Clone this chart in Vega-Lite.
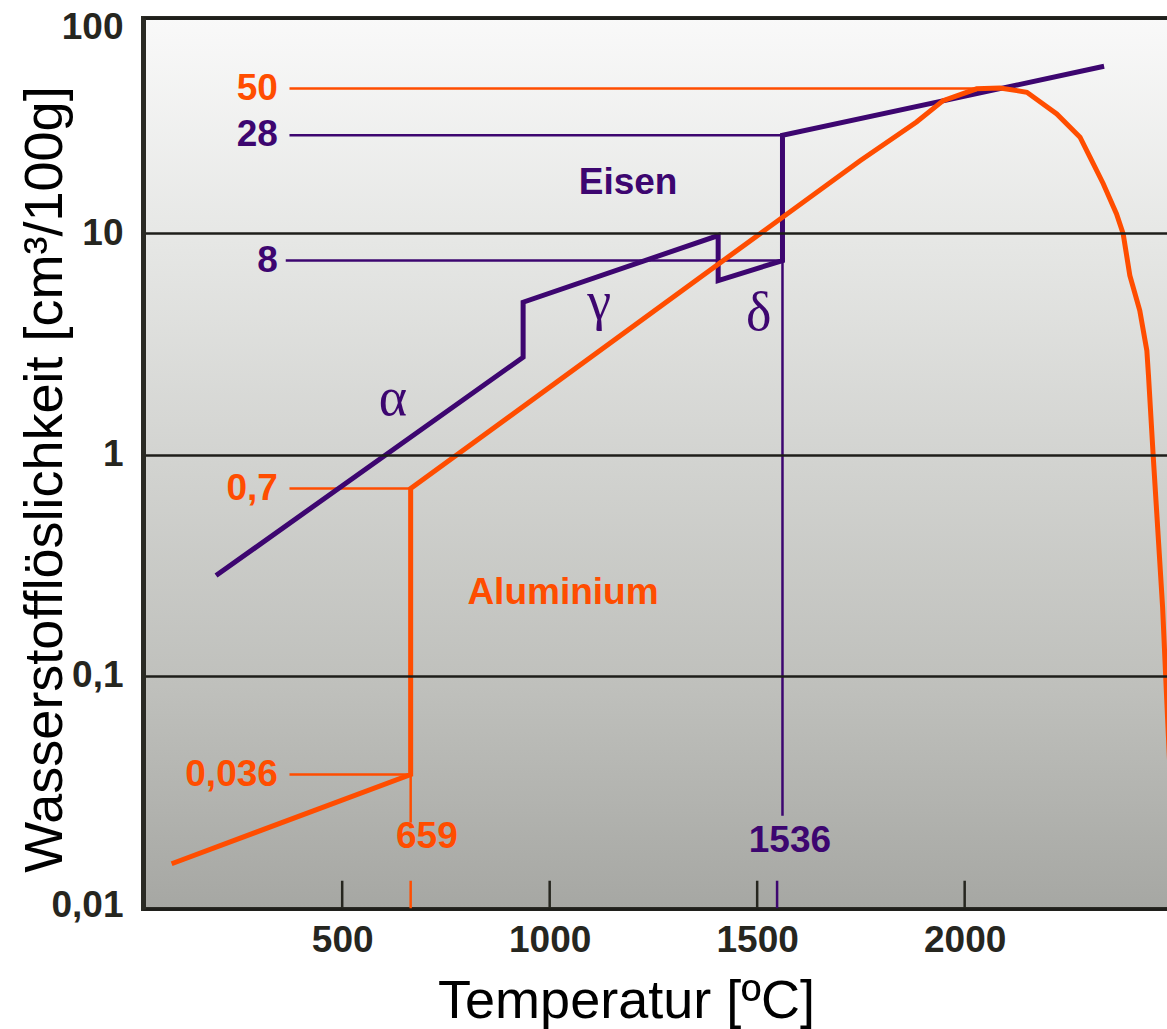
{
  "$schema": "https://vega.github.io/schema/vega-lite/v6.json",
  "width": 1025,
  "height": 891,
  "autosize": {"type": "none"},
  "padding": {"left": 143, "top": 18, "right": 0, "bottom": 120},
  "background": "white",
  "config": {"view": {"stroke": null}, "font": "Liberation Sans"},
  "datasets": {
    "curves": [
      {"s": "Fe", "i": 1, "T": 196, "V": 0.284},
      {"s": "Fe", "i": 2, "T": 936, "V": 2.75},
      {"s": "Fe", "i": 3, "T": 936, "V": 4.87},
      {"s": "Fe", "i": 4, "T": 1406, "V": 9.74},
      {"s": "Fe", "i": 5, "T": 1406, "V": 6.10},
      {"s": "Fe", "i": 6, "T": 1561, "V": 7.51},
      {"s": "Fe", "i": 7, "T": 1561, "V": 27.6},
      {"s": "Fe", "i": 8, "T": 2336, "V": 56.6},
      {"s": "Al", "i": 1, "T": 89, "V": 0.0142},
      {"s": "Al", "i": 2, "T": 665, "V": 0.0359},
      {"s": "Al", "i": 3, "T": 665, "V": 0.702},
      {"s": "Al", "i": 4, "T": 1748, "V": 21.2},
      {"s": "Al", "i": 5, "T": 1884, "V": 31.7},
      {"s": "Al", "i": 6, "T": 1948, "V": 39.6},
      {"s": "Al", "i": 7, "T": 2029, "V": 44.8},
      {"s": "Al", "i": 8, "T": 2085, "V": 45.2},
      {"s": "Al", "i": 9, "T": 2150, "V": 43.2},
      {"s": "Al", "i": 10, "T": 2222, "V": 34.5},
      {"s": "Al", "i": 11, "T": 2278, "V": 27.1},
      {"s": "Al", "i": 12, "T": 2302, "V": 22.0},
      {"s": "Al", "i": 13, "T": 2334, "V": 16.7},
      {"s": "Al", "i": 14, "T": 2366, "V": 12.2},
      {"s": "Al", "i": 15, "T": 2382, "V": 9.92},
      {"s": "Al", "i": 16, "T": 2398, "V": 6.43},
      {"s": "Al", "i": 17, "T": 2422, "V": 4.47},
      {"s": "Al", "i": 18, "T": 2439, "V": 2.95},
      {"s": "Al", "i": 19, "T": 2443, "V": 2.27},
      {"s": "Al", "i": 20, "T": 2454, "V": 1.01},
      {"s": "Al", "i": 21, "T": 2477, "V": 0.204},
      {"s": "Al", "i": 22, "T": 2487, "V": 0.0775},
      {"s": "Al", "i": 23, "T": 2500, "V": 0.023}
    ],
    "refs": [
      {"s": "Al", "T": 373, "T2": 2085, "V": 44.9, "V2": 44.9},
      {"s": "Al", "T": 373, "T2": 665, "V": 0.702, "V2": 0.702},
      {"s": "Al", "T": 373, "T2": 665, "V": 0.0359, "V2": 0.0359},
      {"s": "Al", "T": 665, "T2": 665, "V": 0.0359, "V2": 0.0218},
      {"s": "Fe", "T": 373, "T2": 1561, "V": 27.6, "V2": 27.6},
      {"s": "Fe", "T": 364, "T2": 1561, "V": 7.51, "V2": 7.51},
      {"s": "Fe", "T": 1561, "T2": 1561, "V": 7.51, "V2": 0.0234}
    ],
    "ticks": [
      {"s": "axis", "T": 500},
      {"s": "axis", "T": 1000},
      {"s": "axis", "T": 1500},
      {"s": "axis", "T": 2000},
      {"s": "Al", "T": 665},
      {"s": "Fe", "T": 1548}
    ],
    "valueLabels": [
      {"s": "Al", "text": "50", "T": 345, "V": 44.9},
      {"s": "Fe", "text": "28", "T": 345, "V": 27.6},
      {"s": "Fe", "text": "8", "T": 345, "V": 7.51},
      {"s": "Al", "text": "0,7", "T": 345, "V": 0.702},
      {"s": "Al", "text": "0,036", "T": 345, "V": 0.0359}
    ],
    "names": [
      {"s": "Al", "text": "659", "T": 704, "V": 0.01866},
      {"s": "Fe", "text": "1536", "T": 1579, "V": 0.0179},
      {"s": "Fe", "text": "Eisen", "T": 1189, "V": 16.9},
      {"s": "Al", "text": "Aluminium", "T": 1032, "V": 0.236}
    ],
    "greek": [
      {"s": "Fe", "text": "α", "T": 622, "V": 1.50},
      {"s": "Fe", "text": "γ", "T": 1119, "V": 4.11},
      {"s": "Fe", "text": "δ", "T": 1504, "V": 3.63}
    ]
  },
  "layer": [
    {
      "data": {"values": [{}]},
      "mark": {
        "type": "rect",
        "fill": {
          "gradient": "linear", "x1": 0, "y1": 0, "x2": 0, "y2": 1,
          "stops": [
            {"offset": 0, "color": "#f9f9f9"},
            {"offset": 0.25, "color": "#e6e7e5"},
            {"offset": 0.5, "color": "#d2d3d0"},
            {"offset": 0.75, "color": "#bfc0bc"},
            {"offset": 1, "color": "#a6a7a3"}
          ]
        },
        "stroke": "#2a2a24",
        "strokeWidth": 4
      },
      "encoding": {
        "x": {
          "datum": 20, "type": "quantitative",
          "scale": {"type": "linear", "domain": [20, 2490], "nice": false, "zero": false},
          "axis": {
            "orient": "bottom", "values": [500, 1000, 1500, 2000], "format": "d",
            "grid": false, "ticks": false, "domain": false,
            "labelFont": "Liberation Sans", "labelFontWeight": "bold", "labelFontSize": 37,
            "labelColor": "#26261f", "labelPadding": 13, "labelOverlap": false,
            "title": "Temperatur [ºC]", "titleFont": "Liberation Sans", "titleFontSize": 54,
            "titleFontWeight": "normal", "titleColor": "#000000",
            "titleX": 483, "titleY": 108, "titleBaseline": "alphabetic", "titleAlign": "center",
            "zindex": 1
          }
        },
        "x2": {"datum": 2500},
        "y": {
          "datum": 93.5, "type": "quantitative",
          "scale": {"type": "log", "domain": [0.00887, 93.5], "nice": false},
          "axis": {
            "orient": "left", "values": [0.00887, 0.1, 1, 10, 93.5],
            "labelExpr": "datum.value > 50 ? '100' : datum.value > 5 ? '10' : datum.value > 0.5 ? '1' : datum.value > 0.05 ? '0,1' : '0,01'",
            "grid": true, "gridColor": "#1e1e1a", "gridWidth": 2.5, "gridOpacity": 1,
            "ticks": false, "domain": true, "domainColor": "#2a2a24", "domainWidth": 5,
            "labelFont": "Liberation Sans", "labelFontWeight": "bold", "labelFontSize": 37,
            "labelColor": "#26261f", "labelPadding": 20, "labelOverlap": false, "labelBound": false,
            "labelOffset": {"condition": [{"test": "datum.value > 50", "value": 9}, {"test": "datum.value < 0.05", "value": -4}], "value": 0},
            "title": "Wasserstofflöslichkeit [cm³/100g]", "titleFont": "Liberation Sans", "titleFontSize": 54,
            "titleFontWeight": "normal", "titleColor": "#000000",
            "titleX": -82, "titleY": 461, "titleBaseline": "alphabetic", "titleAlign": "center", "titleAngle": 270,
            "zindex": 1
          }
        },
        "y2": {"datum": 0.00887}
      }
    },
    {
      "data": {"name": "refs"},
      "mark": {"type": "rule", "strokeWidth": 2.5},
      "encoding": {
        "x": {"field": "T", "type": "quantitative", "scale": {"type": "linear", "domain": [20, 2490], "nice": false, "zero": false}},
        "x2": {"field": "T2"},
        "y": {"field": "V", "type": "quantitative", "scale": {"type": "log", "domain": [0.00887, 93.5], "nice": false}},
        "y2": {"field": "V2"},
        "color": {"field": "s", "type": "nominal", "scale": {"domain": ["Al", "Fe", "axis"], "range": ["#ff4d00", "#3d0670", "#26261f"]}, "legend": null}
      }
    },
    {
      "data": {"name": "ticks"},
      "mark": {"type": "rule", "strokeWidth": 2.5},
      "encoding": {
        "x": {"field": "T", "type": "quantitative", "scale": {"type": "linear", "domain": [20, 2490], "nice": false, "zero": false}},
        "y": {"datum": 0.00887, "type": "quantitative", "scale": {"type": "log", "domain": [0.00887, 93.5], "nice": false}},
        "y2": {"datum": 0.0119},
        "color": {"field": "s", "type": "nominal", "scale": {"domain": ["Al", "Fe", "axis"], "range": ["#ff4d00", "#3d0670", "#26261f"]}, "legend": null}
      }
    },
    {
      "data": {"name": "curves"},
      "mark": {"type": "line", "strokeWidth": 5, "clip": true, "strokeJoin": "miter", "strokeCap": "butt"},
      "encoding": {
        "x": {"field": "T", "type": "quantitative", "scale": {"type": "linear", "domain": [20, 2490], "nice": false, "zero": false}},
        "y": {"field": "V", "type": "quantitative", "scale": {"type": "log", "domain": [0.00887, 93.5], "nice": false}},
        "order": {"field": "i", "type": "quantitative"},
        "color": {"field": "s", "type": "nominal", "scale": {"domain": ["Al", "Fe", "axis"], "range": ["#ff4d00", "#3d0670", "#26261f"]}, "legend": null}
      }
    },
    {
      "data": {"name": "valueLabels"},
      "mark": {"type": "text", "align": "right", "baseline": "middle", "font": "Liberation Sans", "fontWeight": "bold", "fontSize": 37},
      "encoding": {
        "x": {"field": "T", "type": "quantitative", "scale": {"type": "linear", "domain": [20, 2490], "nice": false, "zero": false}},
        "y": {"field": "V", "type": "quantitative", "scale": {"type": "log", "domain": [0.00887, 93.5], "nice": false}},
        "text": {"field": "text"},
        "color": {"field": "s", "type": "nominal", "scale": {"domain": ["Al", "Fe", "axis"], "range": ["#ff4d00", "#3d0670", "#26261f"]}, "legend": null}
      }
    },
    {
      "data": {"name": "names"},
      "mark": {"type": "text", "align": "center", "baseline": "middle", "font": "Liberation Sans", "fontWeight": "bold", "fontSize": 37},
      "encoding": {
        "x": {"field": "T", "type": "quantitative", "scale": {"type": "linear", "domain": [20, 2490], "nice": false, "zero": false}},
        "y": {"field": "V", "type": "quantitative", "scale": {"type": "log", "domain": [0.00887, 93.5], "nice": false}},
        "text": {"field": "text"},
        "color": {"field": "s", "type": "nominal", "scale": {"domain": ["Al", "Fe", "axis"], "range": ["#ff4d00", "#3d0670", "#26261f"]}, "legend": null}
      }
    },
    {
      "data": {"name": "greek"},
      "mark": {"type": "text", "align": "center", "baseline": "alphabetic", "font": "Liberation Serif", "fontWeight": "normal", "fontSize": 54},
      "encoding": {
        "x": {"field": "T", "type": "quantitative", "scale": {"type": "linear", "domain": [20, 2490], "nice": false, "zero": false}},
        "y": {"field": "V", "type": "quantitative", "scale": {"type": "log", "domain": [0.00887, 93.5], "nice": false}},
        "text": {"field": "text"},
        "color": {"field": "s", "type": "nominal", "scale": {"domain": ["Al", "Fe", "axis"], "range": ["#ff4d00", "#3d0670", "#26261f"]}, "legend": null}
      }
    }
  ]
}
